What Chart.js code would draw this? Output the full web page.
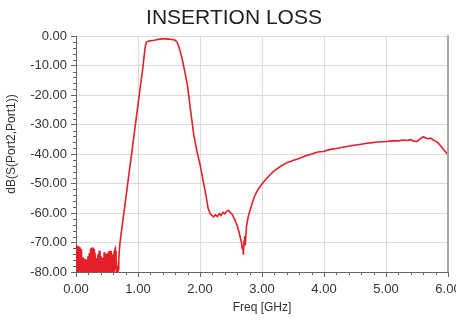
<!DOCTYPE html>
<html><head><meta charset="utf-8">
<script src="https://cdn.jsdelivr.net/npm/chart.js@4/dist/chart.umd.min.js"></script>
<style>html,body{margin:0;padding:0;background:#fff}</style>
</head><body>
<canvas id="c" width="456" height="320" style="display:block;width:456px;height:320px"></canvas>
<script>
const chartTitle = 'INSERTION LOSS';
const xTitle = 'Freq [GHz]';
const yTitle = 'dB(S(Port2,Port1))';
const xTicks = [0, 1, 2, 3, 4, 5, 6];
const yTicks = [0, -10, -20, -30, -40, -50, -60, -70, -80];

const freqGHz = [
  0.00,0.01,0.02,0.03,0.04,0.05,0.06,0.07,0.08,0.09,
  0.10,0.11,0.12,0.13,0.14,0.15,0.16,0.17,0.18,0.19,
  0.20,0.21,0.22,0.23,0.24,0.25,0.26,0.27,0.28,0.29,
  0.30,0.31,0.32,0.33,0.34,0.35,0.36,0.37,0.38,0.39,
  0.40,0.41,0.42,0.43,0.44,0.45,0.46,0.47,0.48,0.49,
  0.50,0.51,0.52,0.53,0.54,0.55,0.56,0.57,0.58,0.59,
  0.60,0.61,0.62,0.63,0.64,0.65,0.66,0.67,0.68,
  0.69,0.70,0.71,0.75,0.80,0.85,0.90,0.95,1.00,1.05,1.08,1.10,1.12,1.14,
  1.18,1.22,1.26,1.30,1.35,1.40,1.45,1.50,1.55,1.60,1.63,1.65,1.68,1.72,1.76,1.80,1.85,1.90,1.95,2.00,2.05,2.10,2.13,
  2.16,2.19,2.22,2.25,2.28,2.31,2.34,2.37,2.40,2.43,2.46,2.49,2.52,2.55,2.58,2.61,2.63,2.65,2.67,2.68,2.69,2.70,2.71,2.72,2.73,2.75,2.78,2.81,2.85,2.89,2.94,2.99,
  3.06,3.13,3.20,3.29,3.40,3.50,3.61,3.70,3.80,3.90,3.99,4.10,4.20,4.30,4.37,4.45,4.55,4.62,4.69,4.78,4.86,4.94,5.01,5.10,5.20,5.28,5.33,5.40,5.45,5.50,5.55,5.60,5.64,5.68,5.72,5.76,5.80,5.84,5.87,5.90,5.94,5.97,6.00
];
const lossDB = [
  -71.0,-78.5,-71.2,-80.0,-71.4,-77.9,-71.6,-79.6,-72.2,-80.0,
  -75.0,-79.1,-76.7,-80.0,-75.5,-78.7,-75.8,-80.0,-76.0,-79.3,
  -74.7,-80.0,-73.6,-78.2,-72.0,-80.0,-71.7,-79.5,-72.2,-80.0,
  -73.5,-78.8,-76.7,-80.0,-75.3,-79.0,-74.0,-80.0,-72.8,-78.4,
  -74.7,-80.0,-75.2,-79.2,-75.5,-80.0,-73.3,-78.6,-74.4,-80.0,
  -73.8,-79.4,-73.5,-80.0,-72.9,-78.9,-72.8,-80.0,-75.0,-79.1,
  -74.0,-80.0,-73.4,-72.8,-79.0,-77.8,-80.0,-80.0,-79.0,
  -75.5,-72.5,-70.0,-63.5,-55.5,-47.4,-39.4,-31.3,-23.2,-15.2,-10.4,-6.5,-3.2,-1.9,
  -1.6,-1.5,-1.4,-1.2,-1.0,-0.9,-0.9,-1.0,-1.1,-1.4,-2.0,-3.0,-5.0,-8.5,-12.5,-17.0,-25.5,-33.5,-39.0,-43.5,-49.0,-54.5,-58.3,
  -60.0,-60.8,-61.3,-60.6,-61.2,-60.2,-60.8,-59.8,-60.3,-59.4,-59.1,-59.9,-60.5,-61.8,-63.2,-65.0,-66.5,-68.3,-70.1,-72.0,-71.0,-74.1,-69.5,-67.9,-71.0,-64.5,-61.0,-58.9,-56.0,-53.8,-51.9,-50.4,
  -48.6,-47.0,-45.6,-44.3,-42.9,-42.2,-41.4,-40.6,-40.0,-39.3,-39.1,-38.4,-38.1,-37.7,-37.4,-37.1,-36.8,-36.6,-36.3,-36.1,-35.9,-35.8,-35.7,-35.5,-35.5,-35.2,-35.4,-35.1,-35.6,-35.7,-34.8,-34.1,-34.5,-34.8,-34.6,-35.2,-35.6,-36.2,-36.9,-37.7,-38.8,-39.5,-40.3
];

const FONT = '"Liberation Sans", Arial, sans-serif';
const n = Math.min(freqGHz.length, lossDB.length);
const points = [];
for (let i = 0; i < n; i++) points.push({ x: freqGHz[i], y: lossDB[i] });

const extras = {
  id: 'extras',
  afterDraw(chart) {
    const { ctx, chartArea: a, scales: { x, y } } = chart;
    ctx.save();
    ctx.strokeStyle = '#666';
    ctx.lineWidth = 1;
    for (let k = 0; k < yTicks.length - 1; k++) {
      const lo = yTicks[k + 1], hi = yTicks[k];
      for (let j = 1; j < 5; j++) {
        const py = Math.round(y.getPixelForValue(lo + (hi - lo) * j / 5)) + 0.5;
        ctx.beginPath(); ctx.moveTo(a.left - 3, py); ctx.lineTo(a.left, py); ctx.stroke();
      }
    }
    for (let k = 0; k < xTicks.length - 1; k++) {
      const lo = xTicks[k], hi = xTicks[k + 1];
      for (let j = 1; j < 5; j++) {
        const px = Math.round(x.getPixelForValue(lo + (hi - lo) * j / 5)) + 0.5;
        ctx.beginPath(); ctx.moveTo(px, a.bottom); ctx.lineTo(px, a.bottom + 3); ctx.stroke();
      }
    }
    ctx.strokeStyle = '#a8a8a8';
    ctx.lineWidth = 2;
    ctx.beginPath(); ctx.moveTo(a.right, a.top - 1); ctx.lineTo(a.right, a.bottom); ctx.stroke();
    ctx.fillStyle = '#333';
    ctx.font = '12px ' + FONT;
    ctx.textAlign = 'center';
    ctx.textBaseline = 'middle';
    ctx.translate(12, 144);
    ctx.rotate(-Math.PI / 2);
    ctx.fillText(yTitle, 0, 0);
    ctx.restore();
  }
};

new Chart(document.getElementById('c'), {
  type: 'line',
  data: { datasets: [{
    data: points, borderColor: '#e3202a', borderWidth: 1.6, pointRadius: 0, tension: 0, fill: false,
    segment: { borderWidth: c => (c.p1.parsed.x <= 0.68 ? 2.4 : 1.6) }
  }] },
  options: {
    responsive: false, animation: false, devicePixelRatio: 1,
    layout: { padding: { left: 20, right: 8, top: 0, bottom: 0 } },
    plugins: {
      legend: { display: false }, tooltip: { enabled: false },
      title: { display: true, text: chartTitle, color: '#222', font: { family: FONT, size: 21, weight: 'normal' }, padding: { top: 6, bottom: 5 } }
    },
    scales: {
      x: {
        type: 'linear', min: 0, max: 6,
        afterBuildTicks: s => { s.ticks = xTicks.map(v => ({ value: v })); },
        ticks: { callback: v => Number(v).toFixed(2), color: '#333', font: { family: FONT, size: 13 }, padding: 5, maxRotation: 0, autoSkip: false },
        grid: { color: '#dcdcdc', tickLength: 5, tickColor: '#666' },
        border: { color: '#666' },
        title: { display: true, text: xTitle, color: '#333', font: { family: FONT, size: 12 }, padding: { top: 0, bottom: 5 } },
        afterFit: s => { s.height = 48; s.paddingRight = 0; s.paddingLeft = 0; }
      },
      y: {
        type: 'linear', min: -80, max: 0,
        afterBuildTicks: s => { s.ticks = yTicks.map(v => ({ value: v })); },
        ticks: { callback: v => Number(v).toFixed(2), color: '#333', font: { family: FONT, size: 13 }, padding: 4, autoSkip: false },
        grid: { color: '#dcdcdc', tickLength: 5, tickColor: '#666' },
        border: { color: '#666' },
        afterFit: s => { s.width = 56; s.paddingTop = 0; s.paddingBottom = 0; }
      }
    }
  },
  plugins: [extras]
});
</script>
</body></html>
